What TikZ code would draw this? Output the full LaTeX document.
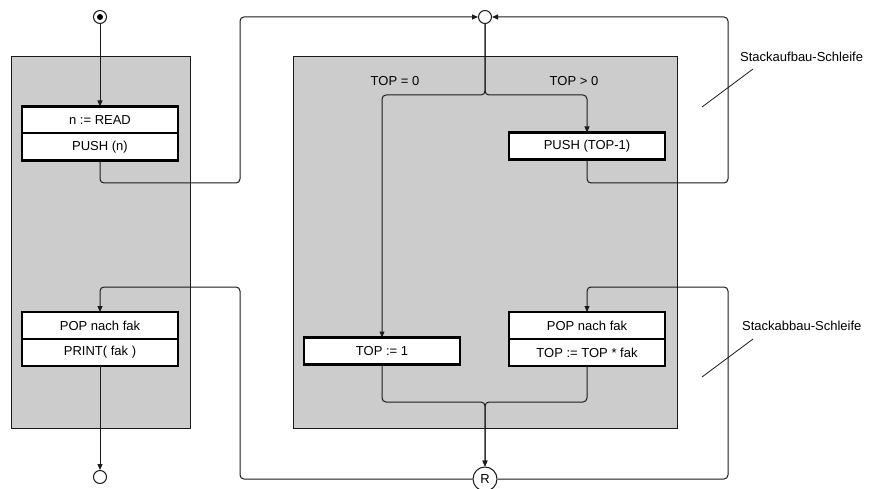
\documentclass[tikz,border=0pt]{standalone}
\usepackage{fontspec}
\setmainfont{Liberation Sans}
\usetikzlibrary{positioning, arrows.meta}
\definecolor{PanelGray}{HTML}{CCCCCC}
\definecolor{LineGray}{HTML}{1A1A1A}

\begin{document}
\begin{tikzpicture}[x=1pt, y=-1pt, every node/.style={font=\fontsize{13}{15}\selectfont},
  panel/.style={draw=LineGray, fill=PanelGray, line width=1pt},
  op/.style={draw, fill=white, line width=1pt, minimum width=155pt, minimum height=26pt, inner sep=0pt},
  frame/.style={line width=2.2pt},
  wire/.style={LineGray, line width=1pt, rounded corners=4pt},
  arr/.style={wire, -{Triangle[length=6pt, width=5pt]}},
  junc/.style={circle, draw=LineGray, line width=1pt, fill=white, minimum size=13pt, inner sep=0pt},
  note/.style={anchor=west, inner sep=0pt}
]
  \useasboundingbox (0,0) rectangle (870,489);

  % Panels
  \draw[panel] (11,57) rectangle (190,428);
  \draw[panel] (293,57) rectangle (677,428);

  % Junctions
  \node[junc] (start) at (100,17) {};
  \fill[black] (start.center) circle (3pt);
  \node[junc] (top) at (485,17) {};
  \node[junc] (stop) at (100,477) {};
  \node[junc, minimum size=24pt] (ret) at (485,479) {R};

  % Left column
  \node[op] (read) at (100,120) {n := READ};
  \node[op, below=0pt of read] (pushn) {PUSH (n)};
  \draw[frame] (read.north west) rectangle (pushn.south east);
  \node[op] (popl) at (100,325.5) {POP nach fak};
  \node[op, below=0pt of popl] (print) {PRINT( fak )};
  \draw[frame] (popl.north west) rectangle (print.south east);

  % Right column
  \node[op] (pushtop) at (587,146) {PUSH (TOP-1)};
  \draw[frame] (pushtop.north west) rectangle (pushtop.south east);
  \node[op] (topone) at (382,351) {TOP := 1};
  \draw[frame] (topone.north west) rectangle (topone.south east);
  \node[op] (popr) at (587,325.5) {POP nach fak};
  \node[op, below=0pt of popr] (mult) {TOP := TOP * fak};
  \draw[frame] (popr.north west) rectangle (mult.south east);

  % Branch labels
  \node (zero) at (395,81) {TOP = 0};
  \node (greater) at (574,81) {TOP > 0};

  % Main flow
  \draw[arr] (start) -- (read);
  \draw[arr] (print) -- (stop);

  % Stack build loop
  \draw[arr] (pushn.south) -- (100,183) -- (240,183) -- (240,17) -- (top.west);
  \draw[arr] (pushtop.south) -- (587,183) -- (728,183) -- (728,17) -- (top.east);
  \draw[arr] (top.south) -- (485,95) -- (382,95) -- (topone.north);
  \draw[arr] (top.south) -- (485,95) -- (587,95) -- (pushtop.north);

  % Stack unwind loop
  \draw[arr] (topone.south) -- (382,402) -- (485,402) -- (ret.north);
  \draw[arr] (mult.south) -- (587,402) -- (485,402) -- (ret.north);
  \draw[arr] (ret.west) -- (240,479) -- (240,287) -- (100,287) -- (popl.north);
  \draw[arr] (ret.east) -- (728,479) -- (728,287) -- (587,287) -- (popr.north);

  % Notes
  \node[note] (aufbau) at (740,57) {Stackaufbau-Schleife};
  \node[note] (abbau) at (742,326) {Stackabbau-Schleife};
  \coordinate (aufbauTip) at (702,107);
  \coordinate (aufbauEnd) at (753,69);
  \coordinate (abbauTip) at (702,377);
  \coordinate (abbauEnd) at (753,339);
  \draw[LineGray, line width=0.8pt] (aufbauTip) -- (aufbauEnd);
  \draw[LineGray, line width=0.8pt] (abbauTip) -- (abbauEnd);
\end{tikzpicture}
\end{document}
